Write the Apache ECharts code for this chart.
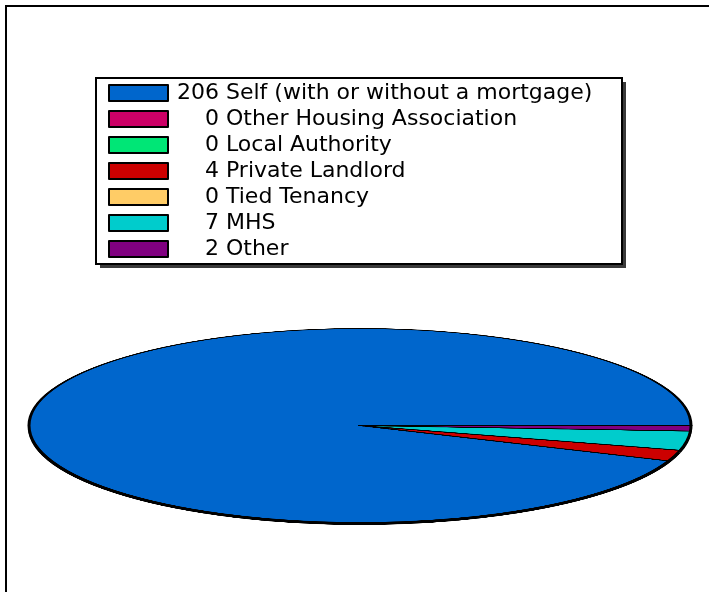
<!DOCTYPE html>
<html>
<head>
<meta charset="utf-8">
<script src="https://cdn.jsdelivr.net/npm/echarts/dist/echarts.min.js"></script>
<style>
  html, body { margin: 0; padding: 0; background: #fff; }
  #legendChart { position: absolute; left: 0; top: 0; width: 709px; height: 592px; }
  #pieChart { position: absolute; left: 0; top: 71px; width: 709px; height: 709px;
              transform: scaleY(0.293); transform-origin: 50% 50%; }
</style>
</head>
<body>
<div id="legendChart"></div>
<div id="pieChart"></div>
<script>
const categories = ['Self (with or without a mortgage)', 'Other Housing Association', 'Local Authority', 'Private Landlord', 'Tied Tenancy', 'MHS', 'Other'];
const counts = [206, 0, 0, 4, 0, 7, 2];
const colors = ['#0066CC', '#CC0066', '#00E676', '#CC0000', '#FFCC66', '#00CCCC', '#800080'];

const pieData = categories.map((c, i) => ({ name: c, value: counts[i], itemStyle: { color: colors[i] } }));
const FONT = '"DejaVu Sans", Verdana, sans-serif';

const legendChart = echarts.init(document.getElementById('legendChart'), null, { renderer: 'canvas' });
legendChart.setOption({
  animation: false,
  graphic: [{
    type: 'rect', z: 0, shape: { x: 6, y: 6, width: 760, height: 640 },
    style: { fill: 'none', stroke: '#000', lineWidth: 2 }, silent: true
  }, {
    type: 'rect', z: 0, shape: { x: 100, y: 82, width: 526, height: 186 },
    style: { fill: '#3a3a3a' }, silent: true
  }, {
    type: 'rect', z: 1, shape: { x: 96, y: 78, width: 526, height: 186 },
    style: { fill: '#fff', stroke: '#000', lineWidth: 2 }, silent: true
  }],
  legend: {
    z: 10,
    orient: 'vertical',
    left: 108, top: 82,
    padding: 0,
    itemWidth: 59, itemHeight: 16, itemGap: 4,
    icon: 'rect',
    itemStyle: { borderColor: '#000', borderWidth: 2 },
    selectedMode: false,
    textStyle: {
      fontFamily: FONT, fontSize: 22, color: '#000', lineHeight: 16,
      padding: [0, 0, 0, 4]
    },
    formatter: function (name) {
      const i = categories.indexOf(name);
      return String(counts[i]).padStart(3, '\u2007') + ' ' + name;
    },
    data: categories
  },
  series: [{
    type: 'pie', radius: 0, center: [-100, -100], silent: true,
    label: { show: false }, labelLine: { show: false },
    data: pieData
  }]
});

const pieChart = echarts.init(document.getElementById('pieChart'), null, { renderer: 'canvas' });
pieChart.setOption({
  animation: false,
  series: [{
    type: 'pie', z: 1, silent: true,
    center: [360, 362], radius: 332,
    startAngle: 0, clockwise: false,
    label: { show: false }, labelLine: { show: false },
    itemStyle: { color: '#000', borderWidth: 0 },
    data: counts.map((v, i) => ({ name: categories[i], value: v }))
  }, {
    type: 'pie', z: 2, silent: true,
    center: [360, 354.5], radius: 331,
    startAngle: 0, clockwise: false,
    label: { show: false }, labelLine: { show: false },
    itemStyle: { borderColor: '#000', borderWidth: 3 },
    emphasis: { disabled: true },
    data: pieData
  }]
});
</script>
</body>
</html>
